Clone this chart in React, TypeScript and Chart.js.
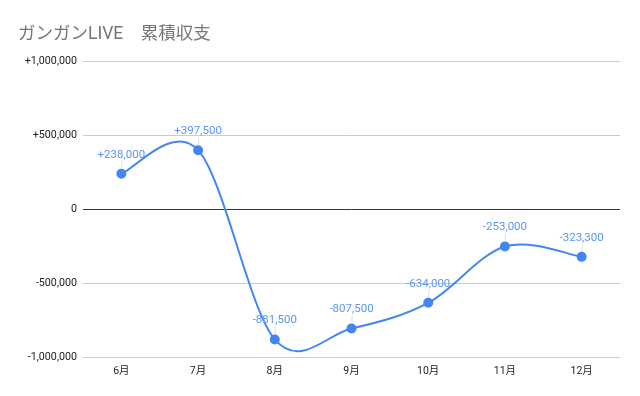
import React, { useEffect, useRef } from "react";
import { Chart, registerables } from "chart.js";

Chart.register(...registerables);

const TITLE = "ガンガンLIVE　累積収支";
const categories = ["6月", "7月", "8月", "9月", "10月", "11月", "12月"];
const cumulative = [238000, 397500, -881500, -807500, -634000, -253000, -323300];
const yTicks = [-1000000, -500000, 0, 500000, 1000000];

const FONT = "Roboto, 'Noto Sans CJK JP', sans-serif";

function fmt(v: number): string {
  const s = Math.abs(v).toLocaleString("en-US");
  if (v > 0) return "+" + s;
  if (v < 0) return "-" + s;
  return "0";
}

// Uniform Catmull-Rom style smoothing (like the original chart's curve)
const smoothPlugin = {
  id: "uniformSpline",
  beforeDatasetDraw(chart: any, args: any) {
    const meta = args.meta;
    const line = meta.dataset;
    if (!line) return;
    if (typeof line.updateControlPoints === "function") {
      line.updateControlPoints(chart.chartArea, meta.indexAxis || "x");
    }
    const pts = meta.data;
    const n = pts.length;
    const k = 1 / 6;
    for (let i = 0; i < n; i++) {
      const prev = pts[Math.max(0, i - 1)];
      const next = pts[Math.min(n - 1, i + 1)];
      const dx = next.x - prev.x;
      const dy = next.y - prev.y;
      pts[i].cp1x = pts[i].x - dx * k;
      pts[i].cp1y = pts[i].y - dy * k;
      pts[i].cp2x = pts[i].x + dx * k;
      pts[i].cp2y = pts[i].y + dy * k;
    }
    line._pointsUpdated = true;
    line._path = undefined;
  },
};

const labelPlugin = {
  id: "pointLabels",
  afterDatasetsDraw(chart: any) {
    const meta = chart.getDatasetMeta(0);
    const ctx = chart.ctx;
    ctx.save();
    meta.data.forEach((pt: any, i: number) => {
      const v = chart.data.datasets[0].data[i] as number;
      ctx.strokeStyle = "rgba(200,200,200,0.6)";
      ctx.lineWidth = 1;
      ctx.beginPath();
      ctx.moveTo(pt.x + 0.5, pt.y - 5);
      ctx.lineTo(pt.x + 0.5, pt.y - 13);
      ctx.stroke();
      ctx.fillStyle = "#5a95f5";
      ctx.font = `11.5px ${FONT}`;
      ctx.textAlign = "center";
      ctx.textBaseline = "middle";
      ctx.fillText(fmt(v), pt.x, pt.y - 19);
    });
    ctx.restore();
  },
};

const titlePlugin = {
  id: "customTitle",
  afterDraw(chart: any) {
    const ctx = chart.ctx;
    ctx.save();
    ctx.fillStyle = "#757575";
    ctx.font = `17.5px ${FONT}`;
    ctx.textAlign = "left";
    ctx.textBaseline = "alphabetic";
    ctx.fillText(TITLE, 18, 39);
    ctx.restore();
  },
};

export default function App() {
  const ref = useRef<HTMLCanvasElement>(null);
  useEffect(() => {
    document.body.style.margin = "0";
    const chart = new Chart(ref.current!, {
      type: "line",
      data: {
        labels: categories,
        datasets: [
          {
            data: cumulative,
            borderColor: "#4285f4",
            backgroundColor: "#4285f4",
            borderWidth: 2,
            pointRadius: 4,
            pointHoverRadius: 4,
            tension: 0.4,
            fill: false,
          },
        ],
      },
      options: {
        animation: false,
        responsive: false,
        maintainAspectRatio: false,
        layout: { padding: { left: 0, right: 20, top: 61, bottom: 0 } },
        plugins: {
          legend: { display: false },
          title: { display: false },
          tooltip: { enabled: false },
        },
        scales: {
          x: {
            offset: true,
            grid: { display: false, drawTicks: false },
            border: { display: false },
            ticks: { color: "#222", font: { family: FONT, size: 10.5 }, padding: 8, maxRotation: 0 },
            afterFit: (s: any) => { s.height = 39; },
          },
          y: {
            min: -1000000,
            max: 1000000,
            afterBuildTicks: (s: any) => { s.ticks = yTicks.map((v) => ({ value: v })); },
            grid: {
              drawTicks: false,
              color: (c: any) => (c.tick && c.tick.value === 0 ? "#333333" : "#cccccc"),
            },
            border: { display: false },
            ticks: {
              color: "#222",
              font: { family: FONT, size: 10.7 },
              padding: 6,
              callback: (v: any) => fmt(Number(v)),
            },
            afterFit: (s: any) => { s.width = 83; },
          },
        },
      },
      plugins: [smoothPlugin, labelPlugin, titlePlugin],
    });
    return () => chart.destroy();
  }, []);
  return (
    <div style={{ width: 640, height: 396 }}>
      <canvas ref={ref} width={640} height={396} style={{ display: "block" }} />
    </div>
  );
}
